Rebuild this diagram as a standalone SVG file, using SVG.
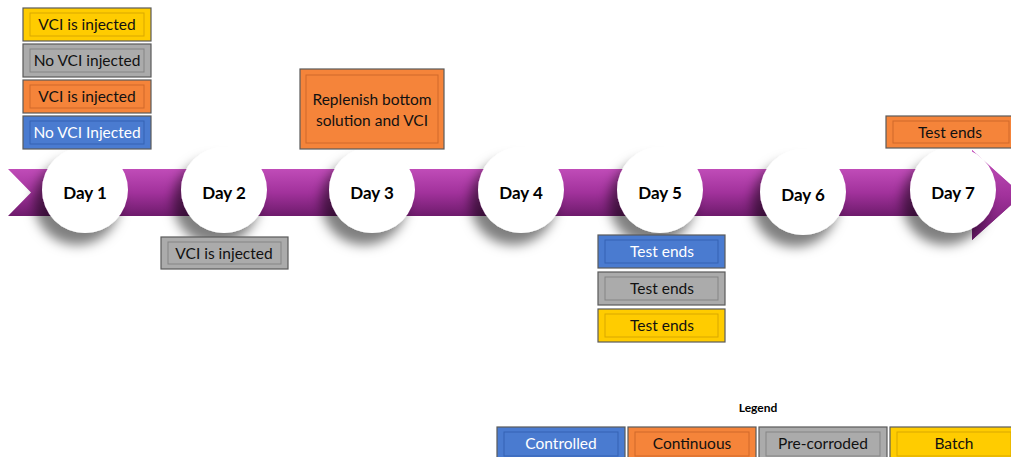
<svg xmlns="http://www.w3.org/2000/svg" width="1011" height="457" viewBox="0 0 1011 457">
<defs>
<linearGradient id="band" gradientUnits="userSpaceOnUse" x1="0" y1="169" x2="0" y2="216">
<stop offset="0" stop-color="#c04cb8"/>
<stop offset="0.5" stop-color="#a2329c"/>
<stop offset="1" stop-color="#6e1b6c"/>
</linearGradient>
<linearGradient id="head" gradientUnits="userSpaceOnUse" x1="0" y1="150" x2="0" y2="240">
<stop offset="0" stop-color="#c453bd"/>
<stop offset="0.5" stop-color="#a2329c"/>
<stop offset="1" stop-color="#6a186a"/>
</linearGradient>
<filter id="sh" x="-50%" y="-50%" width="200%" height="200%">
<feDropShadow dx="-8" dy="12" stdDeviation="6" flood-color="#000" flood-opacity="0.5"/>
</filter>
</defs>
<style>
.o{stroke:#5a5a5a;stroke-width:1.2}
.i{fill:none;stroke-width:1}
.y{fill:#ffcc00}.yi{stroke:#d9a800}
.g{fill:#ababab}.gi{stroke:#858585}
.r{fill:#f5843a}.ri{stroke:#d0682a}
.b{fill:#4a7bd0}.bi{stroke:#3563b3}
.t{font-family:Lato,"Liberation Sans",sans-serif;font-size:15.5px;text-anchor:middle;fill:#111}
.w{fill:#fff}
.d{font-family:Lato,"Liberation Sans",sans-serif;font-size:17px;font-weight:bold;text-anchor:middle;fill:#000}
.c{fill:#fff}
</style>
<g id="timeline">
<path d="M8,169 H972 V150 L1022,195 L972,240 V216 H8 L31,192.5 Z" fill="url(#band)"/>
<path d="M972,150 L1022,195 L972,240 Z" fill="url(#head)"/>
</g>
<g id="days">
<g id="day1"><circle class="c" cx="85" cy="190" r="43" filter="url(#sh)"/><text class="d" x="85" y="199">Day 1</text></g>
<g id="day2"><circle class="c" cx="224" cy="190" r="43" filter="url(#sh)"/><text class="d" x="224" y="199">Day 2</text></g>
<g id="day3"><circle class="c" cx="372" cy="190" r="43" filter="url(#sh)"/><text class="d" x="372" y="199">Day 3</text></g>
<g id="day4"><circle class="c" cx="521" cy="190" r="43" filter="url(#sh)"/><text class="d" x="521" y="199">Day 4</text></g>
<g id="day5"><circle class="c" cx="660" cy="190" r="43" filter="url(#sh)"/><text class="d" x="660" y="199">Day 5</text></g>
<g id="day6"><circle class="c" cx="803" cy="192" r="43" filter="url(#sh)"/><text class="d" x="803" y="201">Day 6</text></g>
<g id="day7"><circle class="c" cx="953" cy="190" r="43" filter="url(#sh)"/><text class="d" x="953" y="199">Day 7</text></g>
</g>
<g id="key-top">
<g id="k1"><rect class="o y" x="23" y="8" width="128" height="33"/><rect class="i yi" x="30" y="13" width="114" height="23"/><text class="t" x="87" y="30">VCI is injected</text></g>
<g id="k2"><rect class="o g" x="23" y="44" width="128" height="33"/><rect class="i gi" x="30" y="49" width="114" height="23"/><text class="t" x="87" y="66">No VCI injected</text></g>
<g id="k3"><rect class="o r" x="23" y="80" width="128" height="33"/><rect class="i ri" x="30" y="85" width="114" height="23"/><text class="t" x="87" y="102">VCI is injected</text></g>
<g id="k4"><rect class="o b" x="23" y="116" width="128" height="33"/><rect class="i bi" x="30" y="121" width="114" height="23"/><text class="t w" x="87" y="138">No VCI Injected</text></g>
</g>
<g id="replenish"><rect class="o r" x="300" y="69" width="144" height="80"/><rect class="i ri" x="306" y="75" width="132" height="68"/><text class="t" x="372" y="105">Replenish bottom</text><text class="t" x="372" y="126">solution and VCI</text></g>
<g id="day2-note"><rect class="o g" x="161" y="237" width="127" height="32"/><rect class="i gi" x="168" y="242" width="113" height="22"/><text class="t" x="224" y="259">VCI is injected</text></g>
<g id="day7-note"><rect class="o r" x="886" y="116" width="130" height="32"/><rect class="i ri" x="893" y="121" width="116" height="22"/><text class="t" x="950" y="138">Test ends</text></g>
<g id="day5-notes">
<g id="n1"><rect class="o b" x="598" y="235" width="127" height="33"/><rect class="i bi" x="605" y="240" width="113" height="23"/><text class="t w" x="662" y="257">Test ends</text></g>
<g id="n2"><rect class="o g" x="598" y="272" width="127" height="33"/><rect class="i gi" x="605" y="277" width="113" height="23"/><text class="t" x="662" y="294">Test ends</text></g>
<g id="n3"><rect class="o y" x="598" y="309" width="127" height="33"/><rect class="i yi" x="605" y="314" width="113" height="23"/><text class="t" x="662" y="331">Test ends</text></g>
</g>
<g id="legend">
<text x="758" y="412" style="font-family:Lato,'Liberation Sans',sans-serif;font-size:12px;font-weight:bold;text-anchor:middle;fill:#000">Legend</text>
<g id="l1"><rect class="o b" x="497" y="427" width="128" height="34"/><rect class="i bi" x="504" y="432" width="114" height="24"/><text class="t w" x="561" y="449">Controlled</text></g>
<g id="l2"><rect class="o r" x="628" y="427" width="128" height="34"/><rect class="i ri" x="635" y="432" width="114" height="24"/><text class="t" x="692" y="449">Continuous</text></g>
<g id="l3"><rect class="o g" x="759" y="427" width="128" height="34"/><rect class="i gi" x="766" y="432" width="114" height="24"/><text class="t" x="823" y="449">Pre-corroded</text></g>
<g id="l4"><rect class="o y" x="890" y="427" width="128" height="34"/><rect class="i yi" x="897" y="432" width="114" height="24"/><text class="t" x="954" y="449">Batch</text></g>
</g>
</svg>
